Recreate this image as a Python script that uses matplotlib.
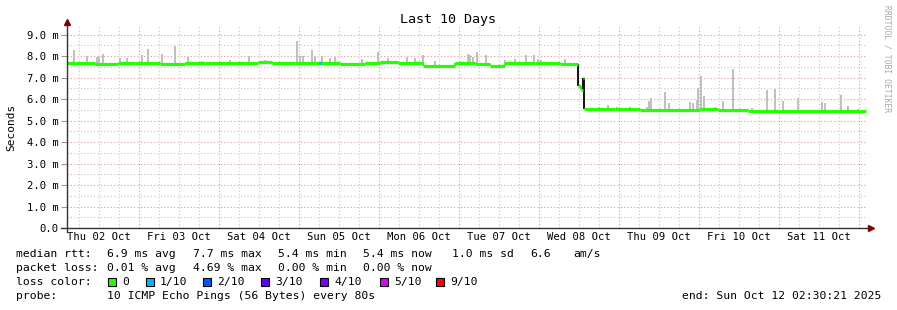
import numpy as np
import matplotlib
matplotlib.use("Agg")
import matplotlib.pyplot as plt
from matplotlib.patches import Rectangle
from datetime import datetime, timedelta

plt.rcParams['font.family'] = ['DejaVu Sans Mono']

# -------------------------
# Data (x = hours since start, y = milliseconds)
# -------------------------
START = datetime(2025, 10, 2, 2, 30, 21)
SPAN_H = 240.0

# median rtt, step series: segment start hour -> value
med_start = [0.0, 2.4, 8.4, 15.3, 20.4, 27.9, 35.4, 41.4, 47.4, 53.4, 57.3, 61.5,
             68.4, 74.4, 81.9, 89.4, 93.9, 99.3, 106.8, 116.4, 122.4, 126.9, 131.4,
             140.4, 147.9, 153.3, 154.2, 154.8, 155.1, 164.4, 171.9, 189.9, 195.3, 204.3]
med_ms = [7.70, 7.66, 7.64, 7.68, 7.66, 7.65, 7.68, 7.66, 7.70, 7.68, 7.71, 7.66,
          7.69, 7.66, 7.63, 7.66, 7.71, 7.67, 7.53, 7.69, 7.65, 7.52, 7.66,
          7.68, 7.64, 6.63, 6.40, 7.00, 5.53, 5.56, 5.51, 5.56, 5.51, 5.43]
med_end = 239.7

# smoke peaks (max ping) above the median
smoke_h = [2.2, 6.0, 9.0, 9.6, 10.7, 15.9, 18.0, 22.5, 24.3, 28.5, 32.5, 36.3, 40.5,
           48.9, 54.6, 59.4, 69.0, 69.9, 70.8, 73.5, 74.4, 76.5, 78.9, 80.4, 88.5,
           93.3, 96.3, 102.0, 104.4, 106.8, 110.4, 120.3, 120.9, 121.8, 123.0, 125.7,
           131.4, 134.4, 137.7, 140.1, 141.3, 142.2, 149.4, 157.5, 159.6, 162.3,
           165.0, 168.9, 174.0, 174.6, 175.2, 179.4, 180.6, 186.9, 187.8, 189.0,
           189.3, 190.2, 191.1, 194.4, 196.8, 199.8, 205.5, 210.0, 212.4, 214.8,
           219.3, 226.5, 227.4, 232.2, 234.3, 237.3]
smoke_ms = [8.29, 8.00, 7.95, 8.00, 8.10, 7.90, 7.90, 8.05, 8.32, 8.10, 8.45, 7.98, 7.78,
            7.80, 8.00, 7.82, 8.68, 8.00, 8.00, 8.30, 8.00, 8.00, 7.90, 7.95, 7.85,
            8.17, 7.90, 7.95, 7.90, 8.05, 7.75, 8.10, 8.05, 7.95, 8.17, 8.05,
            7.80, 7.85, 8.03, 8.05, 7.85, 7.80, 7.85, 5.60, 5.62, 5.73,
            5.65, 5.62, 5.65, 5.89, 6.07, 6.35, 5.81, 5.86, 5.80, 5.96,
            6.51, 7.08, 6.12, 5.65, 5.90, 7.41, 5.60, 6.43, 6.47, 5.92,
            6.05, 5.85, 5.80, 6.20, 5.70, 5.55]

# points with packet loss (1/10)
loss_h = [75.9]
loss_ms = [7.66]

loss_labels = ["0", "1/10", "2/10", "3/10", "4/10", "5/10", "9/10"]
loss_colors = ["#26ff00", "#00b8ff", "#0059ff", "#5e00ff", "#7e00ff", "#dd00ff", "#ff0000"]

stats_rtt = ["6.9 ms avg", "7.7 ms max", "5.4 ms min", "5.4 ms now", "1.0 ms sd", "6.6", "am/s"]
stats_loss = ["0.01 % avg", "4.69 % max", "0.00 % min", "0.00 % now"]

# -------------------------
# Figure
# -------------------------
W, H = 897, 310
fig = plt.figure(figsize=(W / 100, H / 100), dpi=100)
fig.patch.set_facecolor("white")


def fx(px):
    return px / W


def fy(py):
    return 1 - py / H


ax = fig.add_axes([fx(67), fy(228), 800 / W, 202 / H])
ax.set_xlim(0, SPAN_H)
ax.set_ylim(0, 9.4)
for s in ax.spines.values():
    s.set_visible(False)

# grid: minor every 6h / 0.5 ms, major at midnight / 1 ms
first_midnight = (datetime(2025, 10, 3) - START).total_seconds() / 3600
major_x = [first_midnight + 24 * k for k in range(10)]
minor_x = [first_midnight - 18 + 6 * k for k in range(41)]
minor_x = [v for v in minor_x if 0 < v < SPAN_H and v not in major_x]
for v in minor_x:
    ax.axvline(v, color="#c8c8c8", lw=0.8, ls=(0, (1, 2)), zorder=0)
for v in np.arange(0.5, 9.4, 1.0):
    ax.axhline(v, color="#c8c8c8", lw=0.8, ls=(0, (1, 2)), zorder=0)
for v in major_x:
    ax.axvline(v, color="#e09a9a", lw=0.8, ls=(0, (1, 2)), zorder=0)
for v in range(1, 10):
    ax.axhline(v, color="#e09a9a", lw=0.8, ls=(0, (1, 2)), zorder=0)

# smoke
med_start_a = np.array(med_start)
idx = np.searchsorted(med_start_a, smoke_h, side="right") - 1
base = np.array(med_ms)[idx]
ax.bar(smoke_h, np.array(smoke_ms) - base, bottom=base, width=0.6,
       color="#c0c0c0", align="center", zorder=1)

# median line: green steps, large jumps drawn dark
seg_end = med_start[1:] + [med_end]
jumps = np.abs(np.diff(med_ms))
jump_col = ["#111111" if j > 0.3 else "#26ff00" for j in jumps]
ax.vlines(med_start[1:], med_ms[:-1], med_ms[1:], colors=jump_col, lw=1.4, zorder=2)
ax.hlines(med_ms, med_start, seg_end, color="#26ff00", lw=2.3, zorder=3)
ax.hlines(loss_ms, np.array(loss_h) - 0.4, np.array(loss_h) + 0.4,
          color="#00b8ff", lw=2.3, zorder=4)

# ticks
ax.set_yticks(range(10))
ax.set_yticklabels(["0.0"] + [f"{v}.0 m" for v in range(1, 10)])
ax.set_xticks([])
ax.tick_params(axis="y", length=4, width=0.8, color="#999999", pad=2, labelsize=7.6)

# axis lines with arrows
ax.plot([-6 / 800, 1 + 3 / 800], [0, 0], color="#333333", lw=1.0,
        transform=ax.transAxes, clip_on=False, zorder=5)
ax.plot([0, 0], [-4 / 202, 1 + 3 / 202], color="#333333", lw=1.0,
        transform=ax.transAxes, clip_on=False, zorder=5)
ax.plot([1 + 4 / 800], [0], marker=">", ms=4, color="#7f0000",
        transform=ax.transAxes, clip_on=False, zorder=6)
ax.plot([0], [1 + 4 / 202], marker="^", ms=4, color="#7f0000",
        transform=ax.transAxes, clip_on=False, zorder=6)

# day labels at noon
for k in range(10):
    day = datetime(2025, 10, 2) + timedelta(days=k, hours=12)
    h = (day - START).total_seconds() / 3600
    ax.text(h, -9.5 / 202, day.strftime("%a %d %b"), transform=ax.get_xaxis_transform(),
            ha="center", va="center", fontsize=7.6)

# titles
fig.text(fx(448), fy(19), "Last 10 Days", ha="center", va="center", fontsize=9.6)
fig.text(fx(11), fy(127), "Seconds", rotation=90, ha="center", va="center", fontsize=8)
fig.text(fx(887), fy(5), "RRDTOOL / TOBI OETIKER", rotation=-90, ha="center", va="top",
         fontsize=5.8, color="#aaaaaa")

# legend rows
LS = 8.2
cols = [107, 193, 278, 363, 452, 530, 573]
fig.text(fx(16), fy(254), "median rtt:", va="center", fontsize=LS)
for x, s in zip(cols, stats_rtt):
    fig.text(fx(x), fy(254), s, va="center", fontsize=LS)
fig.text(fx(16), fy(268), "packet loss:", va="center", fontsize=LS)
for x, s in zip(cols, stats_loss):
    fig.text(fx(x), fy(268), s, va="center", fontsize=LS)
fig.text(fx(16), fy(282), "loss color:", va="center", fontsize=LS)
sq_x = [108, 146, 203, 261, 320, 380, 436]
for x, lab, c in zip(sq_x, loss_labels, loss_colors):
    fig.patches.append(Rectangle((fx(x), fy(286)), 8 / W, 8 / H, transform=fig.transFigure,
                                 facecolor=c, edgecolor="black", lw=0.8))
    fig.text(fx(x + 14), fy(282), lab, va="center", fontsize=LS)
fig.text(fx(16), fy(296), "probe:", va="center", fontsize=LS)
fig.text(fx(107), fy(296), "10 ICMP Echo Pings (56 Bytes) every 80s", va="center", fontsize=LS)
fig.text(fx(881), fy(296), "end: Sun Oct 12 02:30:21 2025", ha="right", va="center", fontsize=LS)

fig.savefig("out.png", dpi=100, facecolor="white")
